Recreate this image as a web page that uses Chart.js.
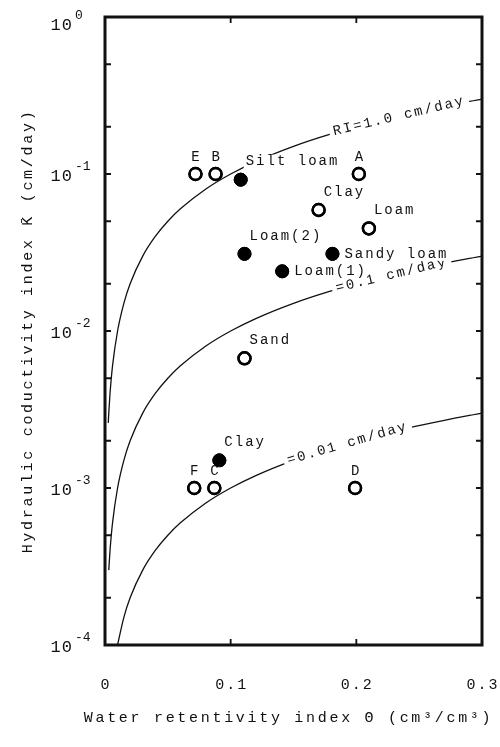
<!DOCTYPE html>
<html>
<head>
<meta charset="utf-8">
<script src="https://cdn.jsdelivr.net/npm/chart.js@4"></script>
<style>
  html, body { margin: 0; padding: 0; background: #fff; }
</style>
</head>
<body>
<canvas id="myChart" width="500" height="747"></canvas>
<script>
// open circles
const openTheta = [0.072, 0.088, 0.202, 0.170, 0.210, 0.111, 0.071, 0.087, 0.199];
const openK     = [0.100, 0.100, 0.100, 0.059, 0.045, 0.0067, 0.001, 0.001, 0.001];
const openNames = ['E', 'B', 'A', 'Clay', 'Loam', 'Sand', 'F', 'C', 'D'];

// filled circles
const filledTheta = [0.108, 0.111, 0.181, 0.141, 0.091];
const filledK     = [0.092, 0.031, 0.031, 0.024, 0.0015];
const filledNames = ['Silt loam', 'Loam(2)', 'Sandy loam', 'Loam(1)', 'Clay'];

// RI curves
const curveTheta = [0.0026, 0.003, 0.004, 0.006, 0.01, 0.015, 0.02, 0.03, 0.04, 0.05, 0.06, 0.08, 0.1, 0.12, 0.15, 0.18, 0.21, 0.24, 0.27, 0.3];
const kRI1   = [0.0026, 0.003, 0.004, 0.006, 0.01, 0.015, 0.02, 0.03, 0.04, 0.05, 0.06, 0.08, 0.1, 0.12, 0.15, 0.18, 0.21, 0.24, 0.27, 0.3];
const kRI01  = [null, 0.0003, 0.0004, 0.0006, 0.001, 0.0015, 0.002, 0.003, 0.004, 0.005, 0.006, 0.008, 0.01, 0.012, 0.015, 0.018, 0.021, 0.024, 0.027, 0.03];
const kRI001 = [null, null, null, null, 0.0001, 0.00015, 0.0002, 0.0003, 0.0004, 0.0005, 0.0006, 0.0008, 0.001, 0.0012, 0.0015, 0.0018, 0.0021, 0.0024, 0.0027, 0.003];
const curveNames = ['RI=1.0 cm/day', '=0.1 cm/day', '=0.01 cm/day'];

// ticks
const xTicks = [0, 0.1, 0.2, 0.3];
const xTickLabels = ['0', '0.1', '0.2', '0.3'];
const yTicks = [1, 0.1, 0.01, 0.001, 0.0001];
const yTickExp = ['0', '-1', '-2', '-3', '-4'];
const yMinorTicks = [0.5, 0.2, 0.05, 0.02, 0.005, 0.002, 0.0005, 0.0002];

// label placement (style, not data)
const curveLabelAt = [0.234, 0.228, 0.193];
const openPlace = ['above', 'above', 'above', 'upright', 'upright', 'upright', 'above', 'above', 'above'];
const filledPlace = ['upright', 'upright', 'right', 'right', 'upright'];

const FONT = '"Liberation Mono", "Courier New", monospace';
const INK = '#111';

function toPts(xs, ys) {
    const out = [];
    xs.forEach((x, i) => { if (ys[i] !== null) out.push({ x: x, y: ys[i] }); });
    return out;
}

function curveYAt(meta, px) {
    const pts = meta.data;
    for (let i = 1; i < pts.length; i++) {
        if (pts[i].x >= px) {
            const a = pts[i - 1], b = pts[i];
            const t = (px - a.x) / (b.x - a.x);
            return a.y + t * (b.y - a.y);
        }
    }
    return pts[pts.length - 1].y;
}

function curveDs(ys) {
    return {
        type: 'line',
        data: toPts(curveTheta, ys),
        borderColor: INK,
        borderWidth: 1.3,
        pointRadius: 0,
        cubicInterpolationMode: 'monotone',
        fill: false
    };
}

const labelPlugin = {
    id: 'labels',
    afterDatasetsDraw(chart) {
        const ctx = chart.ctx;
        const xs = chart.scales.x;

        // curve labels, written along the curve
        [0, 1, 2].forEach(i => {
            const meta = chart.getDatasetMeta(i);
            ctx.save();
            ctx.font = '14px ' + FONT;
            ctx.letterSpacing = '2px';
            const w = ctx.measureText(curveNames[i]).width;
            const cx = xs.getPixelForValue(curveLabelAt[i]);
            const cy = curveYAt(meta, cx);
            const y1 = curveYAt(meta, cx - w / 2), y2 = curveYAt(meta, cx + w / 2);
            ctx.translate(cx, cy);
            ctx.rotate(Math.atan2(y2 - y1, w));
            ctx.fillStyle = '#fff';
            ctx.fillRect(-w / 2 - 4, -8, w + 8, 16);
            ctx.fillStyle = INK;
            ctx.textAlign = 'center';
            ctx.textBaseline = 'middle';
            ctx.fillText(curveNames[i], 0, 0);
            ctx.restore();
        });

        // point labels
        function drawLabels(dsIndex, names, place) {
            const meta = chart.getDatasetMeta(dsIndex);
            ctx.save();
            ctx.font = '14px ' + FONT;
            ctx.letterSpacing = '2px';
            ctx.textBaseline = 'middle';
            meta.data.forEach((pt, j) => {
                const w = ctx.measureText(names[j]).width;
                let lx, ly;
                if (place[j] === 'above') { lx = pt.x - w / 2 + 1; ly = pt.y - 17; }
                else if (place[j] === 'upright') { lx = pt.x + 5; ly = pt.y - 18; }
                else { lx = pt.x + 12; ly = pt.y; }
                ctx.fillStyle = '#fff';
                ctx.fillRect(lx - 2, ly - 7, w + 2, 14);
                ctx.fillStyle = INK;
                ctx.textAlign = 'left';
                ctx.fillText(names[j], lx, ly);
            });
            ctx.restore();
        }
        drawLabels(3, openNames, openPlace);
        drawLabels(4, filledNames, filledPlace);

        // redraw markers over label boxes
        chart.getDatasetMeta(3).controller.draw();
        chart.getDatasetMeta(4).controller.draw();
    },
    afterDraw(chart) {
        const ctx = chart.ctx;
        const a = chart.chartArea;
        const xs = chart.scales.x, ys = chart.scales.y;
        ctx.save();
        ctx.strokeStyle = INK;

        // frame
        ctx.lineWidth = 3;
        ctx.strokeRect(a.left, a.top, a.right - a.left, a.bottom - a.top);

        // inward ticks
        ctx.lineWidth = 1.8;
        ctx.beginPath();
        yTicks.concat(yMinorTicks).forEach(v => {
            const py = ys.getPixelForValue(v);
            ctx.moveTo(a.left, py); ctx.lineTo(a.left + 6, py);
            ctx.moveTo(a.right, py); ctx.lineTo(a.right - 6, py);
        });
        xTicks.forEach(v => {
            const px = xs.getPixelForValue(v);
            ctx.moveTo(px, a.bottom); ctx.lineTo(px, a.bottom - 6);
            ctx.moveTo(px, a.top); ctx.lineTo(px, a.top + 6);
        });
        ctx.stroke();

        ctx.fillStyle = INK;
        // y tick labels 10^n
        yTicks.forEach((v, i) => {
            const py = Math.max(ys.getPixelForValue(v) + 2, a.top + 8);
            ctx.font = '17px ' + FONT;
            ctx.letterSpacing = '1px';
            ctx.textAlign = 'right';
            ctx.textBaseline = 'middle';
            ctx.fillText('10', 73, py);
            ctx.font = '13px ' + FONT;
            ctx.letterSpacing = '0px';
            ctx.textAlign = 'left';
            ctx.fillText(yTickExp[i], 75, py - 9);
        });

        // x tick labels
        ctx.font = '15px ' + FONT;
        ctx.letterSpacing = '2px';
        ctx.textAlign = 'center';
        ctx.textBaseline = 'middle';
        xTicks.forEach((v, i) => {
            ctx.fillText(xTickLabels[i], xs.getPixelForValue(v) + 1, 685);
        });

        // axis titles
        ctx.font = '15px ' + FONT;
        ctx.letterSpacing = '2.7px';
        ctx.fillText('Water retentivity index \u0398 (cm\u00b3/cm\u00b3)', (a.left + a.right) / 2 - 5, 718);
        ctx.translate(28, (a.top + a.bottom) / 2);
        ctx.rotate(-Math.PI / 2);
        ctx.fillText('Hydraulic coductivity index K\u0304 (cm/day)', 0, 0);
        ctx.restore();
    }
};

const ctx = document.getElementById('myChart').getContext('2d');
const chart = new Chart(ctx, {
    type: 'scatter',
    data: {
        datasets: [
            curveDs(kRI1),
            curveDs(kRI01),
            curveDs(kRI001),
            {
                data: toPts(openTheta, openK),
                pointRadius: 6,
                pointBorderWidth: 2.4,
                pointBorderColor: '#000',
                pointBackgroundColor: 'rgba(255,255,255,0)'
            },
            {
                data: toPts(filledTheta, filledK),
                pointRadius: 6.5,
                pointBorderWidth: 1,
                pointBorderColor: '#000',
                pointBackgroundColor: '#000'
            }
        ]
    },
    options: {
        responsive: false,
        animation: false,
        layout: { padding: { left: 105, right: 18, top: 17, bottom: 102 } },
        plugins: { legend: { display: false }, tooltip: { enabled: false } },
        scales: {
            x: { type: 'linear', min: 0, max: 0.3, display: false },
            y: { type: 'logarithmic', min: 0.0001, max: 1, display: false }
        }
    },
    plugins: [labelPlugin]
});
</script>
</body>
</html>
